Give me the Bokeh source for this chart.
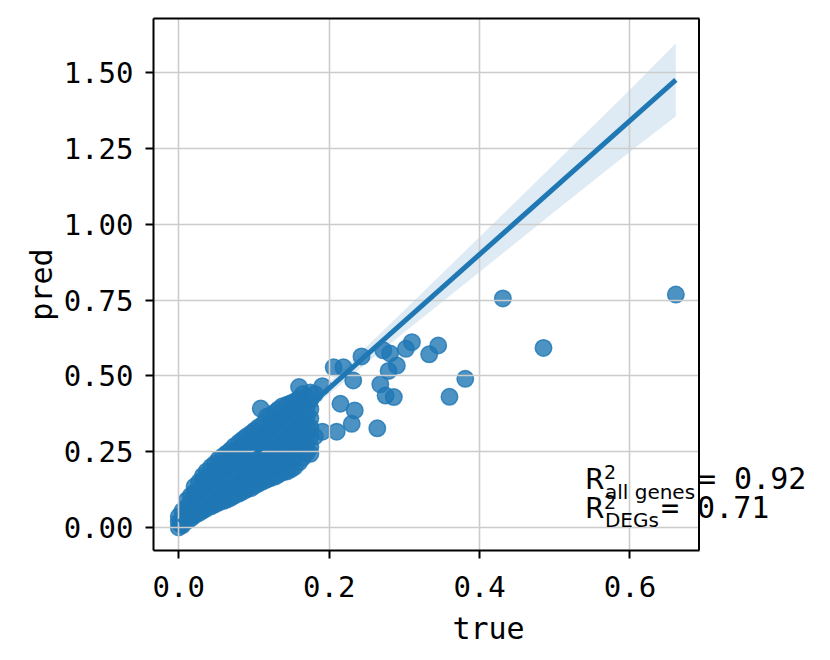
from bokeh.plotting import figure
from bokeh.models import (Range1d, FixedTicker, PrintfTickFormatter, Label,
                          LinearAxis, Span, BoxAnnotation)
from bokeh.embed import file_html
from bokeh.resources import INLINE

# ---------------- data ----------------
# dense cloud of genes near the origin
dense_true = (
    [0.000, 0.000, 0.000, 0.003] + [0.005] * 3
    + [0.011] * 4 + [0.016] * 4
    + [0.021] * 5 + [0.027] * 5
    + [0.032] * 6 + [0.037] * 6
    + [0.043] * 6 + [0.048] * 6
    + [0.053] * 6 + [0.059] * 6
    + [0.064] * 6 + [0.069] * 6
    + [0.074] * 7 + [0.080] * 7
    + [0.085] * 7 + [0.090] * 7
    + [0.096] * 7 + [0.101] * 7
    + [0.106] * 7 + [0.112] * 7
    + [0.117] * 7 + [0.122] * 8
    + [0.128] * 8 + [0.133] * 8
    + [0.138] * 8 + [0.144] * 8
    + [0.149] * 8 + [0.154] * 8
    + [0.160] * 8 + [0.165] * 8
    + [0.170] * 7 + [0.175] * 7
    + [0.181] * 2
)
dense_pred = (
    [0.000, 0.018, 0.036, 0.010] + [0.008, 0.030, 0.055]
    + [0.022, 0.045, 0.068, 0.090] + [0.030, 0.055, 0.080, 0.105]
    + [0.040, 0.065, 0.090, 0.115, 0.135] + [0.048, 0.073, 0.098, 0.123, 0.150]
    + [0.056, 0.080, 0.105, 0.130, 0.155, 0.170]
    + [0.063, 0.090, 0.115, 0.140, 0.165, 0.185]
    + [0.070, 0.095, 0.120, 0.145, 0.170, 0.200]
    + [0.076, 0.105, 0.135, 0.160, 0.185, 0.210]
    + [0.082, 0.110, 0.140, 0.170, 0.200, 0.225]
    + [0.087, 0.115, 0.145, 0.175, 0.205, 0.235]
    + [0.092, 0.120, 0.150, 0.180, 0.210, 0.245]
    + [0.098, 0.128, 0.158, 0.188, 0.218, 0.255]
    + [0.105, 0.135, 0.165, 0.195, 0.225, 0.250, 0.268]
    + [0.112, 0.140, 0.170, 0.200, 0.230, 0.260, 0.280]
    + [0.118, 0.150, 0.180, 0.210, 0.240, 0.270, 0.290]
    + [0.125, 0.155, 0.185, 0.215, 0.245, 0.275, 0.300]
    + [0.130, 0.160, 0.190, 0.220, 0.250, 0.280, 0.310]
    + [0.138, 0.168, 0.198, 0.228, 0.258, 0.290, 0.320]
    + [0.145, 0.175, 0.205, 0.235, 0.265, 0.295, 0.330]
    + [0.152, 0.182, 0.212, 0.242, 0.272, 0.302, 0.340]
    + [0.158, 0.190, 0.220, 0.250, 0.280, 0.310, 0.365]
    + [0.163, 0.195, 0.225, 0.255, 0.285, 0.315, 0.345, 0.370]
    + [0.168, 0.200, 0.230, 0.260, 0.290, 0.320, 0.350, 0.380]
    + [0.175, 0.205, 0.235, 0.265, 0.295, 0.325, 0.355, 0.390]
    + [0.182, 0.210, 0.240, 0.270, 0.300, 0.330, 0.360, 0.400]
    + [0.185, 0.215, 0.245, 0.275, 0.305, 0.335, 0.365, 0.405]
    + [0.192, 0.225, 0.255, 0.285, 0.315, 0.345, 0.375, 0.410]
    + [0.200, 0.230, 0.260, 0.290, 0.320, 0.350, 0.380, 0.415]
    + [0.215, 0.245, 0.275, 0.305, 0.335, 0.365, 0.395, 0.425]
    + [0.230, 0.260, 0.290, 0.320, 0.350, 0.380, 0.410, 0.440]
    + [0.245, 0.275, 0.305, 0.335, 0.365, 0.395, 0.430]
    + [0.265, 0.300, 0.330, 0.360, 0.390, 0.420, 0.445]
    + [0.300, 0.440]
)

# sparser genes further out
outlier_true = [0.661, 0.431, 0.485, 0.381, 0.360, 0.345, 0.333, 0.310, 0.302,
                0.290, 0.279, 0.272, 0.281, 0.268, 0.275, 0.286, 0.264, 0.243,
                0.206, 0.219, 0.232, 0.215, 0.234, 0.230, 0.210, 0.191, 0.191,
                0.160, 0.109, 0.175]
outlier_pred = [0.768, 0.755, 0.592, 0.490, 0.431, 0.600, 0.571, 0.611, 0.589,
                0.534, 0.516, 0.584, 0.574, 0.472, 0.435, 0.430, 0.327, 0.564,
                0.528, 0.528, 0.485, 0.408, 0.386, 0.342, 0.316, 0.316, 0.466,
                0.463, 0.392, 0.243]

# regression fit and its confidence band
reg_true = [0.0, 0.661]
reg_pred = [0.018, 1.476]
band_true = [0.0, 0.1, 0.2, 0.3, 0.4, 0.5, 0.6, 0.661]
band_upper = [0.024, 0.246, 0.478, 0.716, 0.958, 1.200, 1.443, 1.596]
band_lower = [0.012, 0.232, 0.440, 0.644, 0.842, 1.042, 1.239, 1.356]

x_ticks = [0.0, 0.2, 0.4, 0.6]
y_ticks = [0.0, 0.25, 0.5, 0.75, 1.0, 1.25, 1.5]

r2_all = "0.92"
r2_degs = "0.71"

# ---------------- figure ----------------
BLUE = "#1f77b4"
MONO = "DejaVu Sans Mono"
X0, X1 = -0.0336, 0.6918      # axes box (x)
Y0, Y1 = -0.0758, 1.678       # axes box (y)
PX_PER_X = 752.0
LEFT = 153
FRAME_W = 670                 # frame extends right so that the R² text is not clipped

p = figure(width=LEFT + FRAME_W, height=650, output_backend="svg",
           toolbar_location=None,
           x_range=Range1d(X0, X0 + FRAME_W / PX_PER_X), y_range=Range1d(Y0, Y1),
           min_border_left=LEFT, min_border_right=0, min_border_top=18,
           min_border_bottom=100)
p.background_fill_color = "white"
p.border_fill_color = "white"
p.outline_line_color = None

band = p.varea(x=band_true, y1=band_lower, y2=band_upper, fill_color=BLUE,
               fill_alpha=0.15)
band.level = "image"

pts_d = p.scatter(dense_true, dense_pred, size=16.5, fill_color=BLUE,
                  fill_alpha=0.8, line_color=BLUE, line_alpha=0.8, line_width=1.5)
pts_d.level = "image"
pts_o = p.scatter(outlier_true, outlier_pred, size=16.5, fill_color=BLUE,
                  fill_alpha=0.8, line_color=BLUE, line_alpha=0.8, line_width=1.5)
pts_o.level = "image"

ln = p.line(reg_true, reg_pred, line_color=BLUE, line_width=5)
ln.level = "glyph"

grid_ok = True
for g, t in ((p.xgrid, x_ticks), (p.ygrid, y_ticks)):
    g.ticker = FixedTicker(ticks=t)
    g.grid_line_color = "#cccccc"
    g.grid_line_width = 1.6
    g.level = "underlay"
try:
    p.ygrid.cross_bounds = (X0, X1)
except Exception:
    grid_ok = False
if not grid_ok:
    p.add_layout(BoxAnnotation(left=X1 + 0.002, fill_color="white", fill_alpha=1,
                               line_color=None))

p.xaxis.ticker = FixedTicker(ticks=x_ticks)
p.yaxis.ticker = FixedTicker(ticks=y_ticks)
p.xaxis.formatter = PrintfTickFormatter(format="%.1f")
p.yaxis.formatter = PrintfTickFormatter(format="%.2f")
p.xaxis.bounds = (X0, X1)
p.xaxis.axis_label = "true"
p.yaxis.axis_label = "pred"

for ax in (p.xaxis, p.yaxis):
    ax.axis_line_color = "black"
    ax.axis_line_width = 2
    ax.major_tick_line_color = "black"
    ax.major_tick_line_width = 2
    ax.major_tick_in = 0
    ax.major_tick_out = 8
    ax.minor_tick_line_color = None
    ax.major_label_text_font = MONO
    ax.major_label_text_font_size = "29px"
    ax.major_label_text_color = "black"
    ax.axis_label_text_font = MONO
    ax.axis_label_text_font_size = "30px"
    ax.axis_label_text_font_style = "normal"
    ax.axis_label_text_color = "black"
p.xaxis.major_label_standoff = 17
p.xaxis.axis_label_standoff = 11
p.yaxis.major_label_standoff = 12
p.yaxis.axis_label_standoff = 2

# top spine (line only) and right spine
top = LinearAxis(bounds=(X0, X1), ticker=FixedTicker(ticks=[]),
                 major_label_text_font_size="0px", major_tick_line_color=None,
                 minor_tick_line_color=None, axis_line_color="black",
                 axis_line_width=2, major_label_standoff=0)
p.add_layout(top, "above")
p.add_layout(Span(location=X1, dimension="height", line_color="black",
                  line_width=2))


def px_to_data(px, py):
    return (px - 177.8) / PX_PER_X, (527.0 - py) / 303.3


def add_text(txt, px, py, font, size):
    x, y = px_to_data(px, py)
    p.add_layout(Label(x=x, y=y, text=txt, text_font=font,
                       text_font_size="%dpx" % size,
                       text_color="black", text_baseline="alphabetic",
                       text_align="left"))


# vertical positions compensate the renderer's baseline offset (~0.29 em)
add_text("R", 584, 487 - 8, "DejaVu Sans", 28)
add_text("2", 603, 477 - 5, "DejaVu Sans", 19)
add_text("all genes", 604, 497 - 6, "DejaVu Sans", 20)
add_text("= " + r2_all, 697, 487 - 9, MONO, 30)
add_text("R", 584, 516 - 8, "DejaVu Sans", 28)
add_text("2", 603, 506 - 5, "DejaVu Sans", 19)
add_text("DEGs", 604, 525 - 6, "DejaVu Sans", 20)
add_text("= " + r2_degs, 660, 516 - 9, MONO, 30)

open("out.html", "w").write(file_html(p, INLINE))
